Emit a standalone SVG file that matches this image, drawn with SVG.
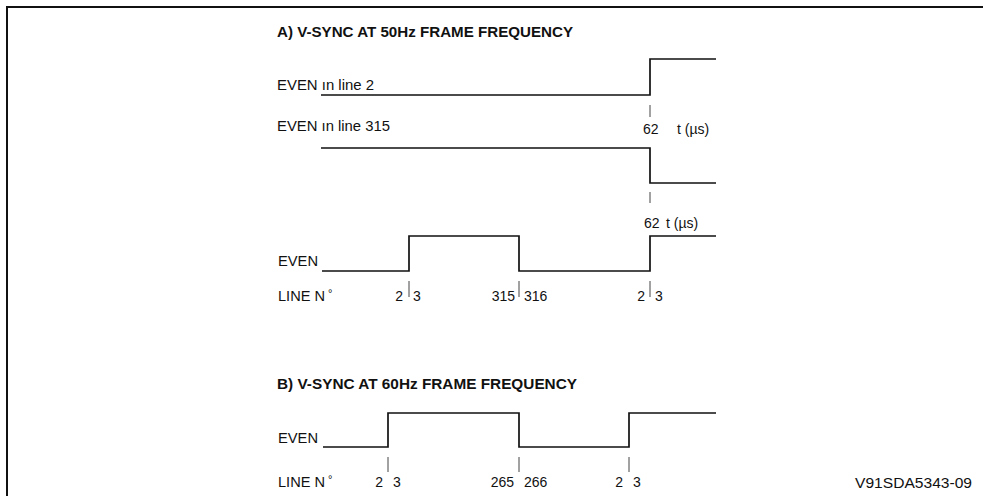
<svg xmlns="http://www.w3.org/2000/svg" width="983" height="496" viewBox="0 0 983 496">
<style>
text{font-family:"Liberation Sans",Arial,Helvetica,sans-serif;fill:#111}
.t{font-size:15px;font-weight:bold}
.l{font-size:14px}
.s{font-size:14px}
.deg{font-size:11px}
.sig{fill:none;stroke:#111;stroke-width:1.7}
.tick{stroke:#444;stroke-width:1}
.frame{stroke:#111;stroke-width:2;fill:none}
</style>
<rect width="983" height="496" fill="#fff"/>
<path class="frame" d="M7,496 V7 H983"/>

<g id="sectionA">
<text class="t" x="277" y="37" textLength="296" lengthAdjust="spacingAndGlyphs">A) V-SYNC AT 50Hz FRAME FREQUENCY</text>

<g id="sigA1">
<text class="l" x="277" y="90" textLength="97" lengthAdjust="spacingAndGlyphs">EVEN ın line 2</text>
<path class="sig" d="M321,95 H650 V59 H716"/>
<line class="tick" x1="650" y1="105" x2="650" y2="117"/>
<text class="s" x="643" y="134">62</text>
<text class="s" x="677" y="134">t (µs)</text>
</g>

<g id="sigA2">
<text class="l" x="277" y="131" textLength="113" lengthAdjust="spacingAndGlyphs">EVEN ın line 315</text>
<path class="sig" d="M321,148 H650 V183 H716"/>
<line class="tick" x1="650" y1="192" x2="650" y2="203"/>
<text class="s" x="644" y="228">62</text>
<text class="s" x="666" y="228">t (µs)</text>
</g>

<g id="sigA3">
<text class="l" x="278" y="266" textLength="40" lengthAdjust="spacingAndGlyphs">EVEN</text>
<path class="sig" d="M322,271 H409 V236 H519 V271 H650 V236 H716"/>
<text class="l" x="278" y="301" textLength="47" lengthAdjust="spacingAndGlyphs">LINE N</text>
<text class="deg" x="328" y="297">°</text>
</g>
<g id="ticksA">
<line class="tick" x1="409" y1="281" x2="409" y2="297"/>
<line class="tick" x1="519" y1="281" x2="519" y2="297"/>
<line class="tick" x1="650" y1="281" x2="650" y2="297"/>
<text class="l" x="403" y="301" text-anchor="end">2</text>
<text class="l" x="413" y="301">3</text>
<text class="l" x="515" y="301" text-anchor="end">315</text>
<text class="l" x="524" y="301">316</text>
<text class="l" x="645" y="301" text-anchor="end">2</text>
<text class="l" x="655" y="301">3</text>
</g>
</g>

<g id="sectionB">
<text class="t" x="277" y="389" textLength="300" lengthAdjust="spacingAndGlyphs">B) V-SYNC AT 60Hz FRAME FREQUENCY</text>
<g id="sigB">
<text class="l" x="278" y="443" textLength="40" lengthAdjust="spacingAndGlyphs">EVEN</text>
<path class="sig" d="M323,447 H388 V413 H519 V447 H629 V413 H716"/>
<text class="l" x="278" y="487" textLength="47" lengthAdjust="spacingAndGlyphs">LINE N</text>
<text class="deg" x="328" y="483">°</text>
</g>
<g id="ticksB">
<line class="tick" x1="388" y1="457" x2="388" y2="472"/>
<line class="tick" x1="519" y1="457" x2="519" y2="472"/>
<line class="tick" x1="629" y1="457" x2="629" y2="472"/>
<text class="l" x="383" y="487" text-anchor="end">2</text>
<text class="l" x="393" y="487">3</text>
<text class="l" x="514" y="487" text-anchor="end">265</text>
<text class="l" x="524" y="487">266</text>
<text class="l" x="623" y="487" text-anchor="end">2</text>
<text class="l" x="633" y="487">3</text>
</g>
</g>

<text class="l" x="855" y="488" textLength="117" lengthAdjust="spacingAndGlyphs">V91SDA5343-09</text>
</svg>
